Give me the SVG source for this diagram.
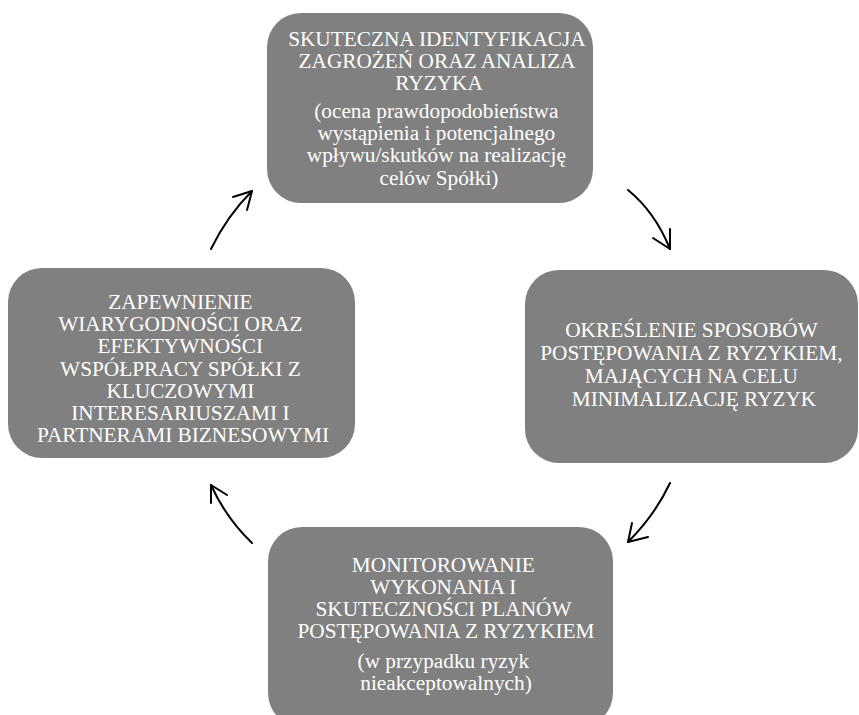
<svg xmlns="http://www.w3.org/2000/svg" width="859" height="715" viewBox="0 0 859 715">
  <defs>
    <style>
      .box { fill: #808080; }
      .lbl { fill: #ffffff; font-family: "Liberation Serif", "Times New Roman", serif; font-size: 21.3px; text-anchor: middle; }
      .arc { fill: none; stroke: #000000; stroke-width: 2; stroke-linecap: round; stroke-linejoin: round; }
    </style>
  </defs>
  <rect width="859" height="715" fill="#ffffff"/>

  <g id="node-identyfikacja">
    <rect class="box" x="267" y="13" width="326" height="190" rx="34"/>
    <text class="lbl">
      <tspan x="439" y="46">SKUTECZNA IDENTYFIKACJA</tspan>
      <tspan x="439" y="68">ZAGROŻEŃ ORAZ ANALIZA</tspan>
      <tspan x="439" y="90">RYZYKA</tspan>
    </text>
    <text class="lbl">
      <tspan x="439" y="118">(ocena prawdopodobieństwa</tspan>
      <tspan x="439" y="140">wystąpienia i potencjalnego</tspan>
      <tspan x="439" y="162">wpływu/skutków na realizację</tspan>
      <tspan x="439" y="185">celów Spółki)</tspan>
    </text>
  </g>

  <g id="node-sposoby">
    <rect class="box" x="525" y="270" width="333" height="193" rx="34"/>
    <text class="lbl">
      <tspan x="694" y="337">OKREŚLENIE SPOSOBÓW</tspan>
      <tspan x="694" y="360">POSTĘPOWANIA Z RYZYKIEM,</tspan>
      <tspan x="694" y="383">MAJĄCYCH NA CELU</tspan>
      <tspan x="694" y="406">MINIMALIZACJĘ RYZYK</tspan>
    </text>
  </g>

  <g id="node-monitorowanie">
    <rect class="box" x="268" y="527" width="345" height="200" rx="34"/>
    <text class="lbl">
      <tspan x="446" y="572">MONITOROWANIE</tspan>
      <tspan x="446" y="594">WYKONANIA I</tspan>
      <tspan x="446" y="616">SKUTECZNOŚCI PLANÓW</tspan>
      <tspan x="446" y="638">POSTĘPOWANIA Z RYZYKIEM</tspan>
    </text>
    <text class="lbl">
      <tspan x="446" y="668">(w przypadku ryzyk</tspan>
      <tspan x="446" y="690">nieakceptowalnych)</tspan>
    </text>
  </g>

  <g id="node-wiarygodnosc">
    <rect class="box" x="8" y="268" width="347" height="190" rx="34"/>
    <text class="lbl">
      <tspan x="183" y="309">ZAPEWNIENIE</tspan>
      <tspan x="183" y="331">WIARYGODNOŚCI ORAZ</tspan>
      <tspan x="183" y="353">EFEKTYWNOŚCI</tspan>
      <tspan x="183" y="376">WSPÓŁPRACY SPÓŁKI Z</tspan>
      <tspan x="183" y="398">KLUCZOWYMI</tspan>
      <tspan x="183" y="420">INTERESARIUSZAMI I</tspan>
      <tspan x="183" y="442">PARTNERAMI BIZNESOWYMI</tspan>
    </text>
  </g>

  <g id="connectors">
    <!-- top to right -->
    <path class="arc" d="M628,190 Q655,212 670,249"/>
    <path class="arc" d="M653,238 L670,249 L670,229"/>
    <!-- right to bottom -->
    <path class="arc" d="M670,483 Q655,515 628,542"/>
    <path class="arc" d="M632,523 L628,542 L648,537"/>
    <!-- bottom to left -->
    <path class="arc" d="M252,543 Q226,518 211,485"/>
    <path class="arc" d="M211,503 L211,485 L227,495"/>
    <!-- left to top -->
    <path class="arc" d="M211,249 Q227,216 252,191"/>
    <path class="arc" d="M233,197 L252,191 L247,210"/>
  </g>
</svg>
